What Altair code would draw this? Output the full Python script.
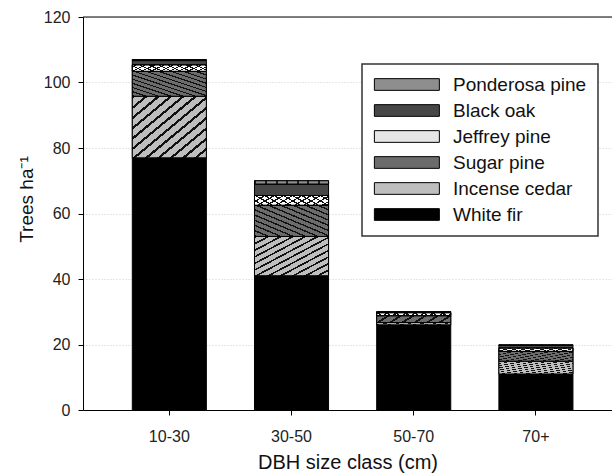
import altair as alt
import pandas as pd

# Stand density by DBH size class, split by species (trees per hectare)
size_classes = ["10-30", "30-50", "50-70", "70+"]
species = ["White fir", "Incense cedar", "Sugar pine", "Jeffrey pine", "Black oak", "Ponderosa pine"]
white_fir = [77.0, 41.0, 26.0, 11.0]
incense_cedar = [18.8, 12.0, 0.7, 3.9]
sugar_pine = [7.6, 9.5, 2.1, 3.0]
jeffrey_pine = [2.0, 3.0, 0.9, 1.0]
black_oak = [1.3, 3.5, 0.2, 0.8]
ponderosa_pine = [0.3, 1.0, 0.1, 0.2]

series = [white_fir, incense_cedar, sugar_pine, jeffrey_pine, black_oak, ponderosa_pine]
rows = []
for order, (name, vals) in enumerate(zip(species, series)):
    for cls, v in zip(size_classes, vals):
        rows.append({"size": cls, "species": name, "value": v, "order": order})
df = pd.DataFrame(rows)

legend_order = list(reversed(species))
fills = {
    "Ponderosa pine": "#8e8e8e",
    "Black oak": "#474747",
    "Jeffrey pine": "#e6e6e6",
    "Sugar pine": "#6c6c6c",
    "Incense cedar": "#bebebe",
    "White fir": "#000000",
}

W, H = 529, 393
FONT = "Liberation Sans"


def stripes(bg, fg, n, frac, x1, y1, x2, y2):
    """Linear gradient with hard stops, used as a hatch fill."""
    stops = []
    for i in range(n):
        a = i / n
        b = (i + frac) / n
        c = (i + 1) / n
        stops += [
            alt.GradientStop(offset=a, color=fg),
            alt.GradientStop(offset=b, color=fg),
            alt.GradientStop(offset=b, color=bg),
            alt.GradientStop(offset=c, color=bg),
        ]
    return alt.LinearGradient(gradient="linear", stops=stops, x1=x1, y1=y1, x2=x2, y2=y2)


x_enc = alt.X(
    "size:N",
    sort=size_classes,
    scale=alt.Scale(paddingInner=0.394, paddingOuter=0.3615, align=0.558),
    axis=alt.Axis(
        title="DBH size class (cm)",
        labelAngle=0,
        labelFont=FONT,
        labelFontSize=16,
        labelColor="#222222",
        labelPadding=13,
        tickSize=5,
        tickColor="black",
        domainColor="black",
        titleFont=FONT,
        titleFontSize=20,
        titleFontWeight="normal",
        titleColor="#111111",
        titleBaseline="alphabetic",
        titleY=58,
        grid=False,
    ),
)
y_enc = alt.Y(
    "y0:Q",
    scale=alt.Scale(domain=[0, 120], nice=False),
    axis=alt.Axis(
        title="Trees ha\u207b\u00b9",
        values=[0, 20, 40, 60, 80, 100, 120],
        labelFont=FONT,
        labelFontSize=16,
        labelColor="#222222",
        labelPadding=8,
        tickSize=5,
        tickColor="black",
        domainColor="black",
        grid=True,
        gridColor="#cfcfcf",
        gridDash=[1, 2],
        gridWidth=1,
        titleFont=FONT,
        titleFontSize=19,
        titleFontWeight="normal",
        titleColor="#111111",
        titleAngle=-90,
        titleAlign="center",
        titleBaseline="middle",
        titleX=-57,
        titleY=182,
    ),
)

base = alt.Chart(df).transform_stack(
    stack="value",
    groupby=["size"],
    sort=[alt.SortField("order", order="ascending")],
    as_=["y0", "y1"],
)

# Legend swatch: a wide flat bar drawn to the right of its layout slot
SWATCH = "M-1,-0.72H7V0.72H-1Z"
SWATCH_SIZE = 264  # layout slot is sqrt(size) wide

solid = base.mark_bar(stroke="black", strokeWidth=1).encode(
    x=x_enc,
    y=y_enc,
    y2="y1:Q",
    color=alt.Color(
        "species:N",
        scale=alt.Scale(domain=legend_order, range=[fills[s] for s in legend_order]),
        legend=alt.Legend(
            title=None,
            orient="none",
            legendX=279,
            legendY=47,
            padding=11,
            rowPadding=6,
            labelFont=FONT,
            labelFontSize=19,
            labelColor="#111111",
            labelOffset=61,
            labelLimit=300,
            symbolType=SWATCH,
            symbolSize=SWATCH_SIZE,
            symbolStrokeColor="black",
            symbolStrokeWidth=1,
            symbolOpacity=1,
            strokeColor="#333333",
            fillColor="white",
        ),
    ),
    order=alt.Order("order:Q"),
)


def hatch(name, grad):
    return (
        base.transform_filter(alt.datum.species == name)
        .mark_bar(fill=grad, stroke="black", strokeWidth=1)
        .encode(x=alt.X("size:N", sort=size_classes), y="y0:Q", y2="y1:Q")
    )


clear = "rgba(0,0,0,0)"
layers = [
    solid,
    # Incense cedar: forward diagonal lines on light grey
    hatch("Incense cedar", stripes(fills["Incense cedar"], "#111111", 12, 0.28, 0, 0, 1, 1)),
    # Sugar pine: back diagonal lines on dark grey
    hatch("Sugar pine", stripes(fills["Sugar pine"], "#111111", 12, 0.28, 0, 1, 1, 0)),
    # Jeffrey pine: cross hatch on white
    hatch("Jeffrey pine", stripes("#ffffff", "#111111", 16, 0.25, 0, 0, 1, 1)),
    hatch("Jeffrey pine", stripes(clear, "#111111", 16, 0.25, 0, 1, 1, 0)),
    # Ponderosa pine: vertical lines on mid grey
    hatch("Ponderosa pine", stripes(fills["Ponderosa pine"], "#222222", 7, 0.18, 0, 0, 1, 0)),
]

# Upper frame line of the plot area
frame_top = (
    alt.Chart(pd.DataFrame({"k": [0]}))
    .mark_rule(color="black", strokeWidth=1)
    .encode(x=alt.value(0), x2=alt.value(W), y=alt.value(0))
)

chart = (
    alt.layer(*layers, frame_top)
    .properties(
        width=W,
        height=H,
        autosize=alt.AutoSizeParams(type="none"),
        padding={"left": 83, "top": 17, "right": 0, "bottom": 64},
        background="white",
    )
    .configure_view(stroke=None)
    .configure_legend(strokeWidth=1.5)
)

chart.save("out.html", embed_options={"renderer": "svg", "actions": False})
